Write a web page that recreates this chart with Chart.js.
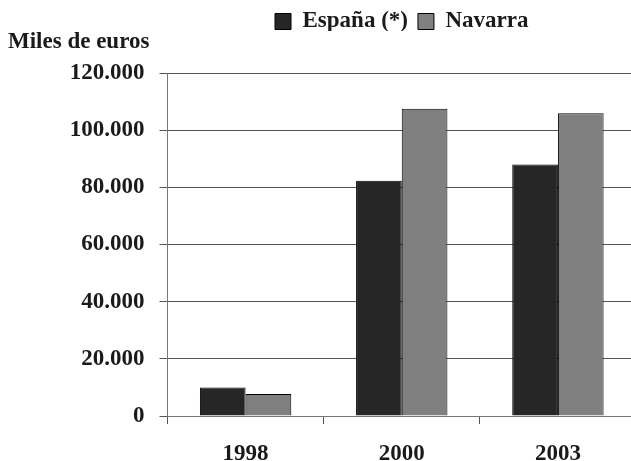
<!DOCTYPE html>
<html>
<head>
<meta charset="utf-8">
<script src="https://cdn.jsdelivr.net/npm/chart.js@4/dist/chart.umd.min.js"></script>
<style>
html,body{margin:0;padding:0;background:#fff;overflow:hidden;}
#wrap{width:631px;height:461px;position:relative;overflow:hidden;}
canvas{display:block;}
</style>
</head>
<body>
<div id="wrap"><canvas id="c" width="636" height="461"></canvas></div>
<script>
const categories = ['1998', '2000', '2003'];
const seriesNames = ['España (*)', 'Navarra'];
const espana = [10000, 82300, 88000];
const navarra = [7700, 107500, 105900];
const yTicks = [0, 20000, 40000, 60000, 80000, 100000, 120000];
const yTickLabels = ['0', '20.000', '40.000', '60.000', '80.000', '100.000', '120.000'];
const yTitle = 'Miles de euros';

const FONT = {family: "'Liberation Serif', 'Times New Roman', serif", size: 23, weight: 'bold'};

new Chart(document.getElementById('c'), {
  type: 'bar',
  data: {
    labels: categories,
    datasets: [
      {label: seriesNames[0], data: espana, backgroundColor: '#262626', borderColor: '#000', borderWidth: 1},
      {label: seriesNames[1], data: navarra, backgroundColor: '#808080', borderColor: '#000', borderWidth: 1}
    ]
  },
  options: {
    responsive: false,
    animation: false,
    devicePixelRatio: 1,
    layout: {padding: {left: 8, right: 0, top: 0, bottom: 0}},
    datasets: {bar: {categoryPercentage: 0.585, barPercentage: 1}},
    plugins: {
      tooltip: {enabled: false},
      legend: {
        position: 'top',
        fullSize: false,
        maxHeight: 31,
        labels: {
          font: FONT, color: '#1a1a1a',
          boxWidth: 16, boxHeight: 16, padding: 10
        }
      },
      title: {
        display: true,
        text: yTitle,
        align: 'start',
        position: 'top',
        weight: 500,
        fullSize: true,
        color: '#1a1a1a',
        font: Object.assign({}, FONT, {lineHeight: 1.0}),
        padding: {top: 0, bottom: 19}
      }
    },
    scales: {
      x: {
        grid: {display: true, drawOnChartArea: false, drawTicks: true, tickLength: 8, color: '#555', lineWidth: 1},
        border: {display: true, color: '#777', width: 1},
        ticks: {font: FONT, color: '#1a1a1a', padding: 16},
        afterFit: (s) => { s.height = 45; }
      },
      y: {
        min: 0, max: 120000,
        afterBuildTicks: (s) => { s.ticks = yTicks.map(v => ({value: v})); },
        grid: {color: '#555', lineWidth: 1, drawTicks: true, tickLength: 8},
        border: {display: true, color: '#777', width: 1},
        ticks: {
          font: FONT, color: '#1a1a1a', padding: 15,
          callback: (v, i) => yTickLabels[i]
        },
        afterFit: (s) => { s.width = 159.5; }
      }
    }
  }
});
</script>
</body>
</html>
